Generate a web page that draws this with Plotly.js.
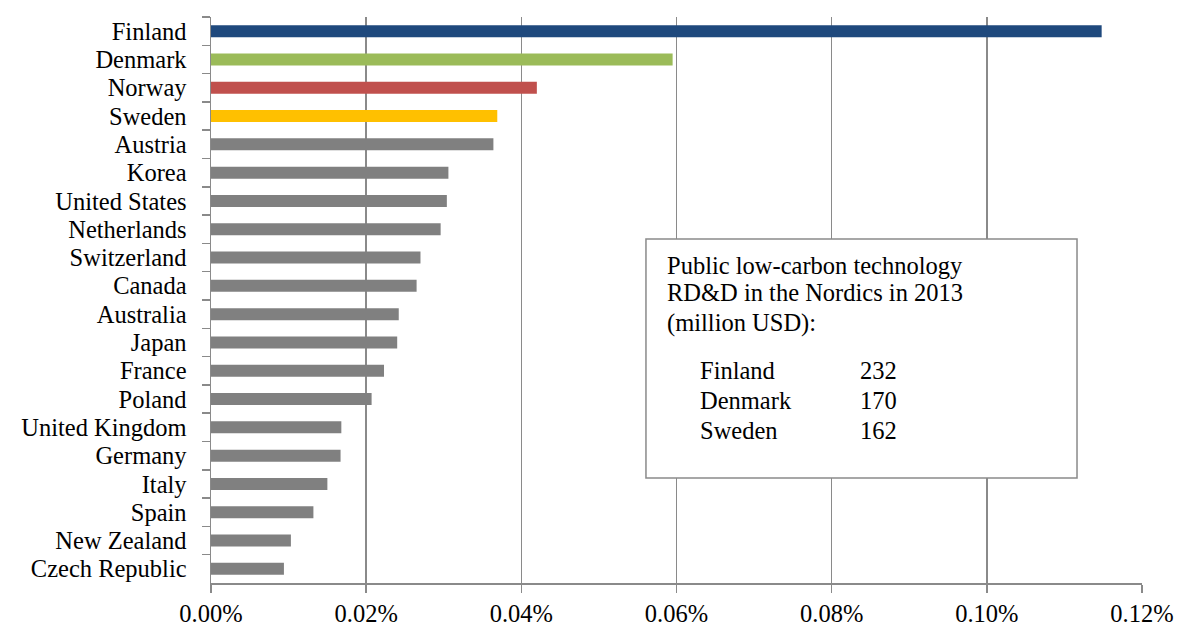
<!DOCTYPE html>
<html>
<head>
<meta charset="utf-8">
<script src="https://cdn.plot.ly/plotly-3.0.1.min.js"></script>
<style>
html, body { margin: 0; padding: 0; background: #ffffff; }
#chart { width: 1178px; height: 626px; }
</style>
</head>
<body>
<div id="chart"></div>
<script>
const countries = ["Finland", "Denmark", "Norway", "Sweden", "Austria", "Korea", "United States",
  "Netherlands", "Switzerland", "Canada", "Australia", "Japan", "France", "Poland",
  "United Kingdom", "Germany", "Italy", "Spain", "New Zealand", "Czech Republic"];
// Share of GDP, percent
const shareOfGDP = [0.1148, 0.0595, 0.0420, 0.0369, 0.0364, 0.0306, 0.0304,
  0.0296, 0.0270, 0.0265, 0.0242, 0.0240, 0.0223, 0.0207,
  0.0168, 0.0167, 0.0150, 0.0132, 0.0103, 0.0094];
const barColors = ["#1F497D", "#9BBB59", "#C0504D", "#FFC000", "#808080", "#808080", "#808080",
  "#808080", "#808080", "#808080", "#808080", "#808080", "#808080", "#808080",
  "#808080", "#808080", "#808080", "#808080", "#808080", "#808080"];
const xTicks = [0, 0.02, 0.04, 0.06, 0.08, 0.10, 0.12];
const xTickLabels = ["0.00%", "0.02%", "0.04%", "0.06%", "0.08%", "0.10%", "0.12%"];

const boxTitleLines = ["Public low-carbon technology", "RD&amp;D in the Nordics in 2013", "(million USD):"];
const nordicNames = ["Finland", "Denmark", "Sweden"];
const nordicMillionUSD = [232, 170, 162];

const FONT = "Liberation Serif, Times New Roman, serif";
const FS = 24.5;
const GRID = "#8a8a8a";

const trace = {
  type: "bar",
  orientation: "h",
  y: countries,
  x: shareOfGDP,
  marker: { color: barColors },
  hoverinfo: "skip"
};

const annotations = [];
const titleY = [0.5618, 0.5124, 0.4594];
boxTitleLines.forEach((t, i) => {
  annotations.push({ xref: "paper", yref: "paper", x: 0.4877, y: titleY[i], xanchor: "left", yanchor: "middle",
    text: t, showarrow: false, font: { family: FONT, size: FS, color: "#000" } });
});
const rowY = [0.3763, 0.3233, 0.2703];
nordicNames.forEach((n, i) => {
  annotations.push({ xref: "paper", yref: "paper", x: 0.5231, y: rowY[i], xanchor: "left", yanchor: "middle",
    text: n, showarrow: false, font: { family: FONT, size: FS, color: "#000" } });
  annotations.push({ xref: "paper", yref: "paper", x: 0.6950, y: rowY[i], xanchor: "left", yanchor: "middle",
    text: String(nordicMillionUSD[i]), showarrow: false, font: { family: FONT, size: FS, color: "#000" } });
});

const layout = {
  width: 1178, height: 626,
  margin: { l: 211, r: 36, t: 17, b: 43 },
  paper_bgcolor: "#ffffff", plot_bgcolor: "#ffffff",
  showlegend: false,
  bargap: 0.575,
  font: { family: FONT, size: FS, color: "#000" },
  xaxis: {
    range: [0, 0.12], tickmode: "array", tickvals: xTicks, ticktext: xTickLabels,
    showgrid: true, gridcolor: GRID, gridwidth: 1.5,
    showline: true, linecolor: GRID, linewidth: 1.5,
    ticks: "outside", ticklen: 8, tickcolor: GRID, tickwidth: 1.5,
    zeroline: false, fixedrange: true,
    tickfont: { family: FONT, size: FS, color: "#000" }
  },
  yaxis: {
    type: "category", autorange: "reversed",
    tickmode: "linear", tick0: 0, dtick: 1,
    showgrid: false, showline: true, linecolor: GRID, linewidth: 1.5,
    ticks: "outside", tickson: "boundaries", ticklen: 8, tickcolor: GRID, tickwidth: 1.5,
    ticklabelstandoff: 18,
    fixedrange: true,
    tickfont: { family: FONT, size: FS, color: "#000" }
  },
  shapes: [{
    type: "rect", xref: "paper", yref: "paper", layer: "above",
    x0: 0.4672, x1: 0.9302, y0: 0.1855, y1: 0.6078,
    fillcolor: "#ffffff", line: { color: "#8a8a8a", width: 1.5 }
  }],
  annotations: annotations
};

Plotly.newPlot("chart", [trace], layout, { displayModeBar: false, staticPlot: true });
</script>
</body>
</html>
